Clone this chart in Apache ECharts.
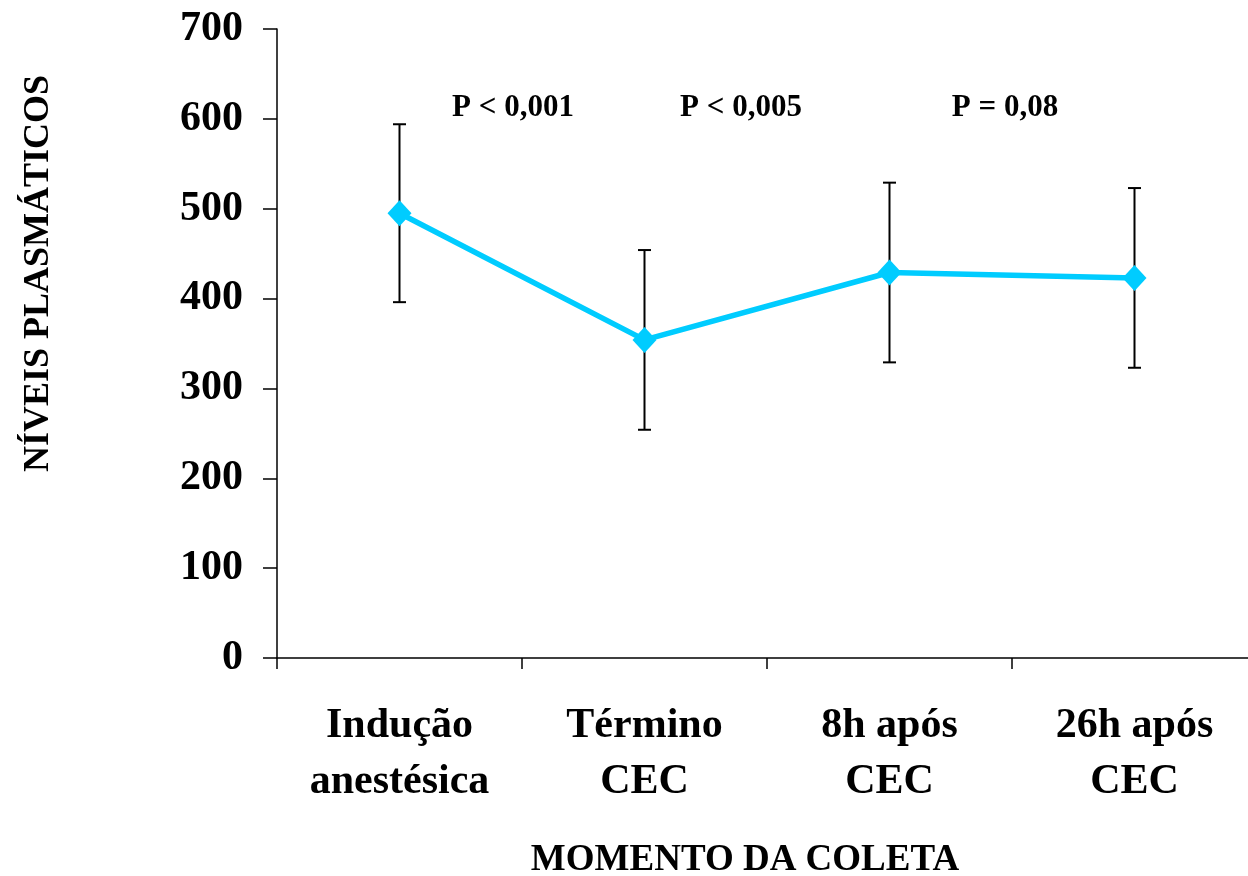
<!DOCTYPE html>
<html>
<head>
<meta charset="utf-8">
<script src="https://cdn.jsdelivr.net/npm/echarts@6/dist/echarts.min.js"></script>
<style>
  html, body { margin: 0; padding: 0; background: #fff; }
  #chart { width: 1248px; height: 876px; }
</style>
</head>
<body>
<div id="chart"></div>
<script>
// Sampling moments (x categories)
const categories = ['Indução\nanestésica', 'Término\nCEC', '8h após\nCEC', '26h após\nCEC'];
// Mean plasma levels at each moment
const meanValues = [495, 354, 429, 423];
// Standard deviation for the error bars
const sdValues = [99, 100, 100, 100];
// Y-axis ticks
const yTicks = [0, 100, 200, 300, 400, 500, 600, 700];
// Significance annotations between consecutive moments
const pLabels = ['P < 0,001', 'P < 0,005', 'P = 0,08'];

const FONT = '"Liberation Serif", "Times New Roman", serif';
const chart = echarts.init(document.getElementById('chart'), null, { renderer: 'canvas' });

const errorData = meanValues.map((v, i) => [i, v - sdValues[i], v + sdValues[i]]);

const pPositions = [513, 741, 1005];

chart.setOption({
  backgroundColor: '#ffffff',
  animation: false,
  grid: { left: 277, top: 29, width: 980, bottom: 218, containLabel: false, outerBoundsMode: 'none' },
  xAxis: {
    type: 'category',
    data: categories,
    boundaryGap: true,
    axisLine: { show: true, lineStyle: { color: '#000', width: 1.5 } },
    axisTick: { show: true, inside: false, length: 11, lineStyle: { color: '#000', width: 1.5 } },
    axisLabel: {
      margin: 40,
      color: '#000',
      fontFamily: FONT,
      fontWeight: 'bold',
      fontSize: 42,
      lineHeight: 56,
      interval: 0
    },
    splitLine: { show: false },
    name: 'MOMENTO DA COLETA',
    nameLocation: 'middle',
    nameGap: 184,
    nameTextStyle: { color: '#000', fontFamily: FONT, fontWeight: 'bold', fontSize: 37, padding: [0, 44, 0, 0] }
  },
  yAxis: {
    type: 'value',
    min: yTicks[0],
    max: yTicks[yTicks.length - 1],
    interval: 100,
    axisLine: { show: true, onZero: false, lineStyle: { color: '#000', width: 1.5 } },
    axisTick: { show: true, inside: false, length: 14, lineStyle: { color: '#000', width: 1.5 } },
    axisLabel: {
      margin: 34,
      color: '#000',
      fontFamily: FONT,
      fontWeight: 'bold',
      fontSize: 42
    },
    splitLine: { show: false },
    name: 'NÍVEIS PLASMÁTICOS',
    nameLocation: 'middle',
    nameRotate: 90,
    nameGap: 220,
    nameTextStyle: { color: '#000', fontFamily: FONT, fontWeight: 'bold', fontSize: 36, padding: [0, 0, 0, 140] }
  },
  series: [
    {
      type: 'custom',
      name: 'DP',
      data: errorData,
      z: 1,
      renderItem: function (params, api) {
        const x = api.value(0);
        const lo = api.coord([x, api.value(1)]);
        const hi = api.coord([x, api.value(2)]);
        const cap = 6.5;
        const style = { stroke: '#000', lineWidth: 2 };
        return {
          type: 'group',
          children: [
            { type: 'line', shape: { x1: hi[0], y1: hi[1], x2: lo[0], y2: lo[1] }, style: style },
            { type: 'line', shape: { x1: hi[0] - cap, y1: hi[1], x2: hi[0] + cap, y2: hi[1] }, style: style },
            { type: 'line', shape: { x1: lo[0] - cap, y1: lo[1], x2: lo[0] + cap, y2: lo[1] }, style: style }
          ]
        };
      }
    },
    {
      type: 'line',
      name: 'Média',
      data: meanValues,
      z: 3,
      symbol: 'diamond',
      symbolSize: [24, 26],
      lineStyle: { color: '#00CCFF', width: 5.5 },
      itemStyle: { color: '#00CCFF' }
    }
  ],
  graphic: pLabels.map((t, i) => ({
    type: 'text',
    x: pPositions[i],
    y: 108,
    style: {
      text: t,
      fill: '#000',
      font: 'bold 31px ' + FONT,
      textAlign: 'center',
      textVerticalAlign: 'middle'
    }
  }))
});
</script>
</body>
</html>
